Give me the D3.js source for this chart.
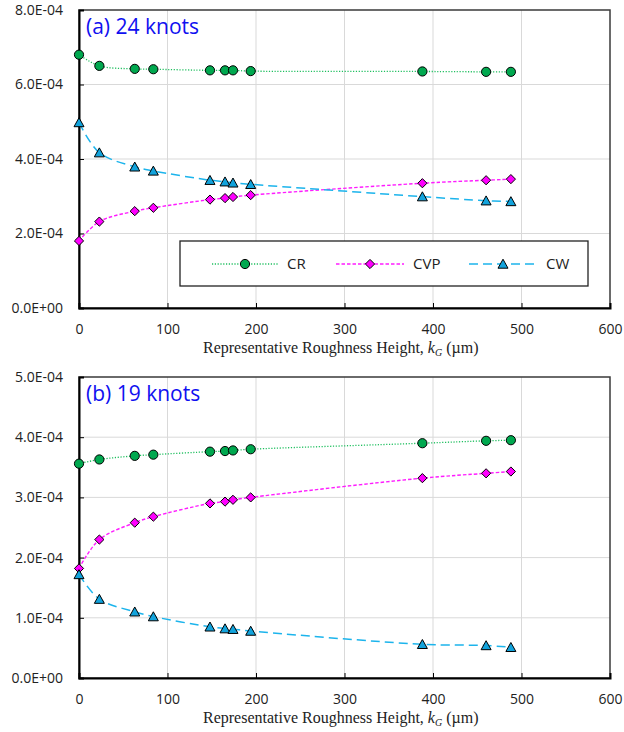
<!DOCTYPE html>
<html>
<head>
<meta charset="utf-8">
<script src="https://cdn.jsdelivr.net/npm/d3@7"></script>
<style>
  html, body { margin: 0; padding: 0; background: #fff; }
  svg { display: block; }
</style>
</head>
<body>
<svg id="chart" width="624" height="732"></svg>
<script>
// Roughness heights (µm) shared by both panels
const roughness = [0, 23, 63, 84, 148, 165, 174, 194, 388, 460, 488];

// (a) 24 knots
const cr24  = [6.80e-4, 6.50e-4, 6.42e-4, 6.41e-4, 6.38e-4, 6.38e-4, 6.38e-4, 6.36e-4, 6.35e-4, 6.34e-4, 6.34e-4];
const cvp24 = [1.80e-4, 2.32e-4, 2.60e-4, 2.69e-4, 2.91e-4, 2.95e-4, 2.98e-4, 3.03e-4, 3.35e-4, 3.43e-4, 3.46e-4];
const cw24  = [4.98e-4, 4.17e-4, 3.79e-4, 3.68e-4, 3.43e-4, 3.39e-4, 3.36e-4, 3.32e-4, 2.99e-4, 2.88e-4, 2.86e-4];

// (b) 19 knots
const cr19  = [3.56e-4, 3.63e-4, 3.69e-4, 3.71e-4, 3.76e-4, 3.77e-4, 3.78e-4, 3.80e-4, 3.90e-4, 3.94e-4, 3.95e-4];
const cvp19 = [1.82e-4, 2.30e-4, 2.58e-4, 2.68e-4, 2.90e-4, 2.93e-4, 2.96e-4, 3.00e-4, 3.32e-4, 3.40e-4, 3.43e-4];
const cw19  = [1.72e-4, 1.31e-4, 1.10e-4, 1.02e-4, 0.85e-4, 0.82e-4, 0.81e-4, 0.78e-4, 0.56e-4, 0.54e-4, 0.51e-4];

const seriesNames = ["CR", "CVP", "CW"];
const xTicks = [0, 100, 200, 300, 400, 500, 600];
const yTicksA = [0, 2e-4, 4e-4, 6e-4, 8e-4];
const yTicksB = [0, 1e-4, 2e-4, 3e-4, 4e-4, 5e-4];
const panelTitles = ["(a) 24 knots", "(b) 19 knots"];

const svg = d3.select("#chart");

const styles = {
  CR:  { line: "#1fbf5f", dash: "1.2,1.6", width: 1.3, fill: "#00a84f", marker: "circle" },
  CVP: { line: "#ff1cff", dash: "3.5,2",   width: 1.4, fill: "#ff00ff", marker: "diamond" },
  CW:  { line: "#1cb4ec", dash: "9,5",     width: 1.5, fill: "#12a3dc", marker: "triangle" }
};

function markerPath(kind) {
  if (kind === "circle") return d3.symbol(d3.symbolCircle, Math.PI * 4.6 * 4.6)();
  if (kind === "diamond") return "M0,-4.6L4.6,0L0,4.6L-4.6,0Z";
  return "M0,-4.8L5,4.2L-5,4.2Z";
}

function sciFormat(v) {
  const [m, e] = v.toExponential(1).split("e");
  const sign = e[0] === "-" ? "-" : "+";
  const digits = e.replace(/^[+-]/, "").padStart(2, "0");
  return m + "E" + sign + digits;
}

function drawPanel(cfg) {
  const { top, bottom, left, right, yMax, yTicks, data, title } = cfg;
  const g = svg.append("g");
  const x = d3.scaleLinear().domain([0, 600]).range([left, right]);
  const y = d3.scaleLinear().domain([0, yMax]).range([bottom, top]);

  // gridlines
  g.append("g").selectAll("line.vx").data(xTicks.slice(1, -1)).join("line")
    .attr("x1", d => x(d)).attr("x2", d => x(d)).attr("y1", top).attr("y2", bottom)
    .attr("stroke", "#d9d9d9").attr("stroke-width", 1);
  g.append("g").selectAll("line.hy").data(yTicks.slice(1, -1)).join("line")
    .attr("x1", left).attr("x2", right).attr("y1", d => y(d)).attr("y2", d => y(d))
    .attr("stroke", "#d9d9d9").attr("stroke-width", 1);

  // plot frame
  g.append("rect").attr("x", left).attr("y", top)
    .attr("width", right - left).attr("height", bottom - top)
    .attr("fill", "none").attr("stroke", "#3a3a3a").attr("stroke-width", 1.5);

  // axes (inside ticks)
  const xAxis = d3.axisBottom(x).tickValues(xTicks).tickSize(-5).tickPadding(12)
    .tickFormat(d3.format("d"));
  const yAxis = d3.axisLeft(y).tickValues(yTicks).tickSize(-5).tickPadding(16)
    .tickFormat(sciFormat);

  const gx = g.append("g").attr("transform", `translate(0,${bottom})`).call(xAxis);
  const gy = g.append("g").attr("transform", `translate(${left},0)`).call(yAxis);
  [gx, gy].forEach(ax => {
    ax.select(".domain").attr("stroke", "#000").attr("stroke-width", 2);
    ax.selectAll(".tick line").attr("stroke", "#000").attr("stroke-width", 1);
    ax.selectAll(".tick text").attr("fill", "#222")
      .style("font-family", "'Open Sans', sans-serif").style("font-size", "14px");
  });
  gx.selectAll(".tick text").attr("dy", "0.71em").attr("y", 16);

  // axis title
  const t = g.append("text")
    .attr("x", 203).attr("y", bottom + 45)
    .style("font-family", "'Liberation Serif', 'Times New Roman', serif")
    .style("font-size", "16px").attr("fill", "#222");
  t.append("tspan").text("Representative Roughness Height, ");
  t.append("tspan").style("font-style", "italic").text("k");
  t.append("tspan").style("font-style", "italic").style("font-size", "10px")
    .attr("dy", 3).text("G");
  t.append("tspan").attr("dy", -3).text(" (\u00b5m)");

  // series
  const line = d3.line().x(d => x(d[0])).y(d => y(d[1])).curve(d3.curveCatmullRom.alpha(0.5));
  seriesNames.forEach((name, i) => {
    const st = styles[name];
    const pts = roughness.map((r, k) => [r, data[i][k]]);
    g.append("path").datum(pts).attr("d", line)
      .attr("fill", "none").attr("stroke", st.line)
      .attr("stroke-width", st.width).attr("stroke-dasharray", st.dash);
    g.append("g").selectAll("path").data(pts).join("path")
      .attr("transform", d => `translate(${x(d[0])},${y(d[1])})`)
      .attr("d", markerPath(st.marker))
      .attr("fill", st.fill).attr("stroke", "#000").attr("stroke-width", 1);
  });

  // panel title
  g.append("text").attr("x", left + 7).attr("y", top + 24)
    .style("font-family", "'Open Sans', sans-serif").style("font-size", "21px")
    .attr("fill", "#1010f0").text(title);

  return { x, y };
}

drawPanel({
  top: 10, bottom: 308, left: 79, right: 610, yMax: 8e-4, yTicks: yTicksA,
  data: [cr24, cvp24, cw24], title: panelTitles[0]
});

drawPanel({
  top: 377, bottom: 678, left: 79, right: 610, yMax: 5e-4, yTicks: yTicksB,
  data: [cr19, cvp19, cw19], title: panelTitles[1]
});

// legend in panel (a)
const lg = svg.append("g");
lg.append("rect").attr("x", 180).attr("y", 241).attr("width", 408).attr("height", 45)
  .attr("fill", "#fff").attr("stroke", "#222").attr("stroke-width", 1.3);
const legendItems = [
  { name: "CR",  x0: 212, x1: 278 },
  { name: "CVP", x0: 336, x1: 404 },
  { name: "CW",  x0: 469, x1: 537 }
];
legendItems.forEach(it => {
  const st = styles[it.name];
  const cy = 264;
  lg.append("line").attr("x1", it.x0).attr("x2", it.x1).attr("y1", cy).attr("y2", cy)
    .attr("stroke", st.line).attr("stroke-width", st.width).attr("stroke-dasharray", st.dash);
  lg.append("path").attr("transform", `translate(${(it.x0 + it.x1) / 2},${cy})`)
    .attr("d", markerPath(st.marker))
    .attr("fill", st.fill).attr("stroke", "#000").attr("stroke-width", 1);
  lg.append("text").attr("x", it.x1 + 9).attr("y", cy).attr("dy", "0.35em")
    .style("font-family", "'Open Sans', sans-serif").style("font-size", "15px")
    .attr("fill", "#222").text(it.name);
});
</script>
</body>
</html>
